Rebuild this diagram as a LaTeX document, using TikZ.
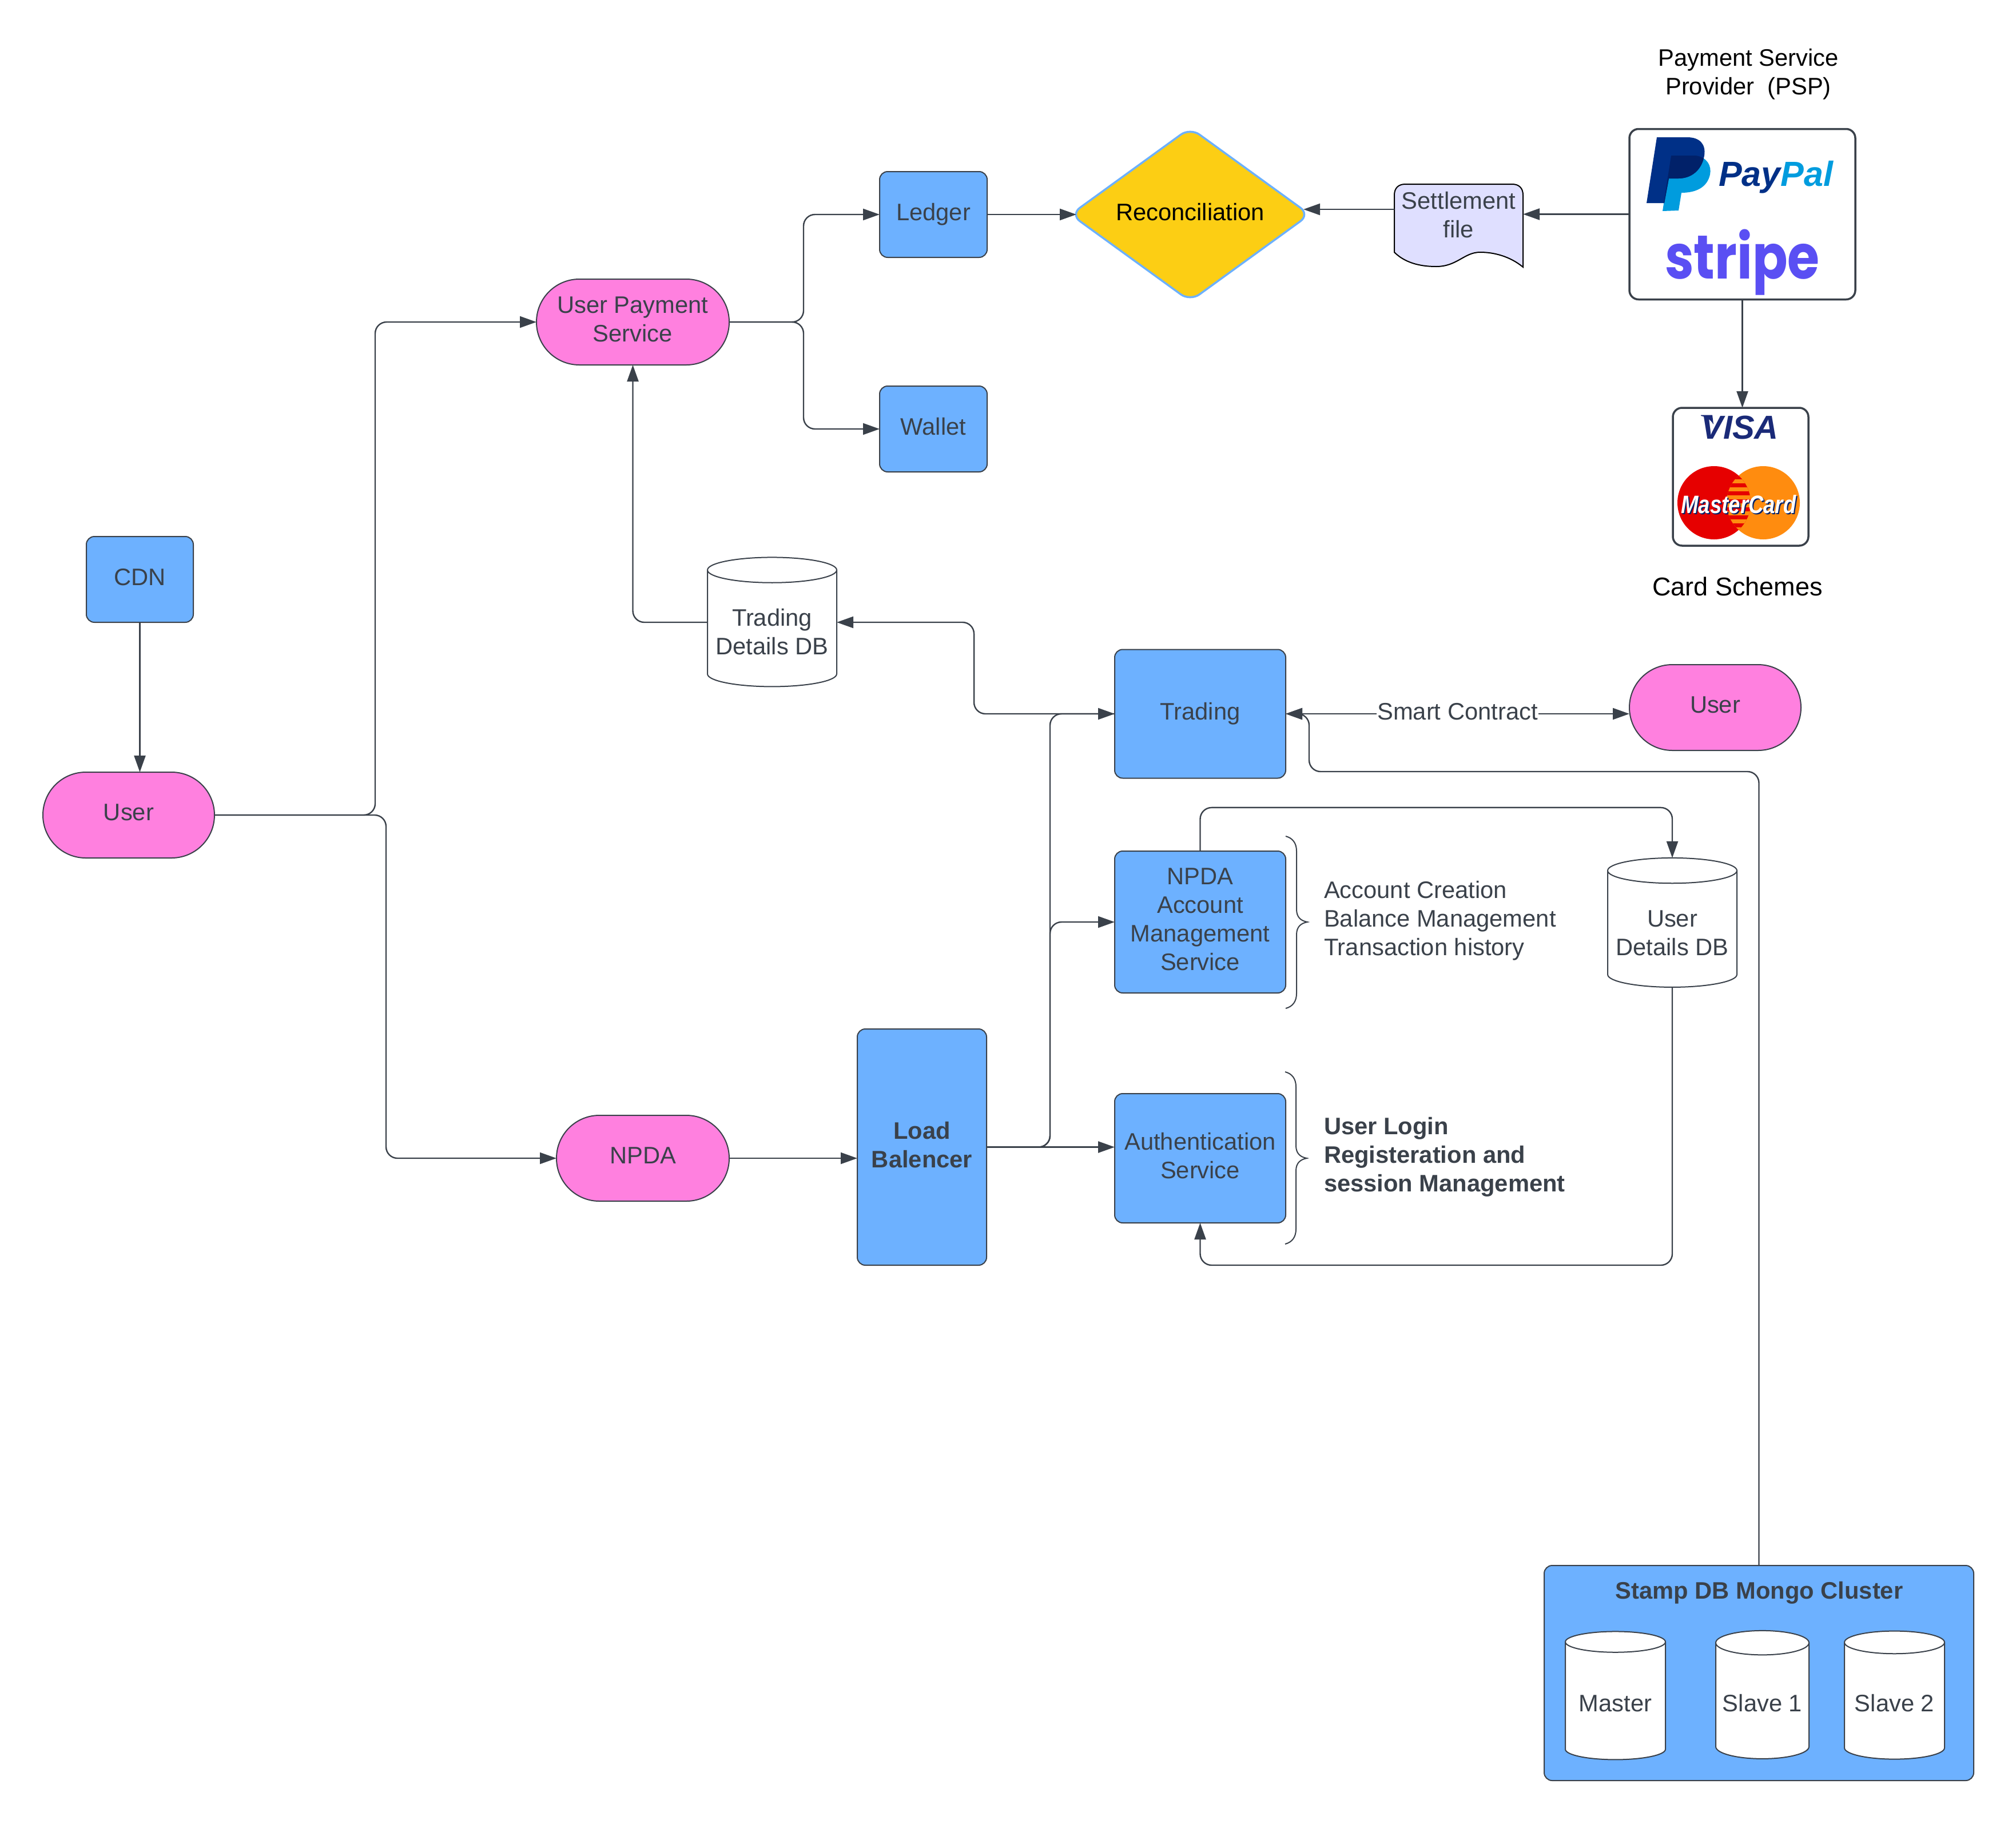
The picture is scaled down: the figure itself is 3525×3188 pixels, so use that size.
\documentclass[tikz,border=0pt]{standalone}
\usepackage{fontspec}
\usepackage{graphicx}
\setmainfont{Liberation Sans}
\newfontfamily\stripefont{Poppins}
\usetikzlibrary{arrows.meta,shapes.geometric}
\definecolor{ink}{HTML}{3A414A}
\definecolor{boxblue}{HTML}{6DB1FF}
\definecolor{pillpink}{HTML}{FF80DF}
\definecolor{gold}{HTML}{FCCE14}
\definecolor{lav}{HTML}{DFDFFF}
\definecolor{ppdark}{HTML}{003087}
\definecolor{ppmid}{HTML}{012169}
\definecolor{pplight}{HTML}{009CDE}
\definecolor{stripec}{HTML}{5A4FF3}
\definecolor{visac}{HTML}{1A2A78}
\definecolor{mcred}{HTML}{E60000}
\definecolor{mcorange}{HTML}{FF8C0F}
\newcommand{\bodyfont}{\fontsize{41.7}{50}\selectfont}
\newcommand{\myBrace}[4]{%
  \draw[ink,line width=2pt] (#1,#2) .. controls (#1+12,#2+3) and (#1+19,#2+12) .. (#1+19,#2+26)
    -- (#1+19,#3-22) .. controls (#1+19,#3-8) and (#1+27,#3-2) .. (#1+38,#3)
    .. controls (#1+27,#3+2) and (#1+19,#3+8) .. (#1+19,#3+22)
    -- (#1+19,#4-26) .. controls (#1+19,#4-12) and (#1+12,#4-3) .. (#1,#4);}
\tikzset{
  every node/.style={font=\bodyfont,text=ink,align=center,inner sep=0pt,outer sep=0pt},
  bluebox/.style={draw=ink,line width=2pt,fill=boxblue,rounded corners=14pt,text depth=9pt},
  pill/.style={draw=ink,line width=2pt,fill=pillpink,rounded corners=75pt,minimum width=300pt,minimum height=150pt,text depth=9pt},
  logobox/.style={draw=ink,line width=3.5pt,fill=white,rounded corners=16pt},
  dbcyl/.style={cylinder,shape border rotate=90,aspect=0.225,draw=ink,line width=2pt,fill=white},
  conn/.style={draw=ink,line width=2.4pt,rounded corners=20pt,-{Triangle[length=29pt,width=20pt]}},
  twoway/.style={draw=ink,line width=2.4pt,{Triangle[length=29pt,width=20pt]}-{Triangle[length=29pt,width=20pt]}},
  side/.style={anchor=west,align=left},
  capt/.style={text=black},
}
\begin{document}
\begin{tikzpicture}[x=1pt,y=-1pt]
\useasboundingbox (0,0) rectangle (3525,3188);

% pills
\node[pill] (user) at (225,1425) {User};
\node[pill] (user2) at (2999,1237) {User};
\node[pill,minimum width=302pt] (npda) at (1124,2025) {NPDA};
\node[pill,minimum width=337pt] (ups) at (1106.5,563) {User Payment\\Service};

% boxes
\node[bluebox,minimum width=187pt,minimum height=150pt] (cdn) at (244.5,1013) {CDN};
\node[bluebox,minimum width=188pt,minimum height=150pt] (ledger) at (1632,375) {Ledger};
\node[bluebox,minimum width=188pt,minimum height=150pt] (wallet) at (1632,750) {Wallet};
\node[bluebox,minimum width=226pt,minimum height=413pt] (lb) at (1612,2005.5) {\bfseries Load\\\bfseries Balencer};
\node[bluebox,minimum width=299pt,minimum height=225pt] (trading) at (2098.5,1248) {Trading};
\node[bluebox,minimum width=299pt,minimum height=248pt] (acct) at (2098.5,1612) {NPDA\\Account\\Management\\Service};
\node[bluebox,minimum width=299pt,minimum height=226pt] (auth) at (2098.5,2025) {Authentication\\Service};

% decision
\node[diamond,aspect=1.34,draw=boxblue,line width=3.5pt,fill=gold,rounded corners=20pt,
      minimum width=418pt,minimum height=303pt,text=black,text depth=9pt] (recon) at (2081,375) {Reconciliation};

% settlement file
\draw[black,line width=2pt,fill=lav] (2438,341) .. controls (2438,329) and (2445,322) .. (2457,322)
  -- (2644,322) .. controls (2656,322) and (2663,329) .. (2663,341) -- (2663,467)
  .. controls (2640,448) and (2612,441) .. (2588,441)
  .. controls (2560,441) and (2548,466) .. (2511,466)
  .. controls (2480,466) and (2455,458) .. (2438,441) -- cycle;
\node[minimum width=225pt,minimum height=108pt] (settle) at (2550.5,376) {Settlement\\file};

% payment provider
\node[logobox,minimum width=395pt,minimum height=298pt] (psp) at (3046.5,374.5) {};
\begin{scope}
\path[fill=pplight] (2922,272) -- (2965,272) .. controls (2985,275) and (2993,290) .. (2990,305)
  .. controls (2985,328) and (2965,337) .. (2940,337) -- (2935,368) -- (2907,369) -- cycle;
\path[fill=ppdark] (2897,240) -- (2950,240) .. controls (2972,240) and (2983,252) .. (2980,272)
  .. controls (2975,300) and (2955,312) .. (2935,312) -- (2918,312) -- (2910,355) -- (2879,355) -- cycle;
\begin{scope}
\clip (2922,272) -- (2965,272) .. controls (2985,275) and (2993,290) .. (2990,305)
  .. controls (2985,328) and (2965,337) .. (2940,337) -- (2935,368) -- (2907,369) -- cycle;
\path[fill=ppmid] (2897,240) -- (2950,240) .. controls (2972,240) and (2983,252) .. (2980,272)
  .. controls (2975,300) and (2955,312) .. (2935,312) -- (2918,312) -- (2910,355) -- (2879,355) -- cycle;
\end{scope}
\end{scope}
\node[anchor=base west,font=\fontsize{61}{61}\selectfont\bfseries\itshape] (paypal) at (3005,325)
  {\textcolor{ppdark}{Pay}\textcolor{pplight}{Pal}};
\node[anchor=base,font=\fontsize{108}{108}\stripefont\bfseries,text=stripec] (stripe) at (3046.5,487) {\scalebox{.84}[1]{stripe}};

% card schemes
\node[logobox,minimum width=237pt,minimum height=241pt] (card) at (3043.5,833.5) {};
\path[fill=visac] (2974,725.5) -- (2994,725.5) -- (2996,742)
  .. controls (2991,734) and (2984,729) .. (2974,727) -- cycle;
\node[anchor=base,font=\fontsize{58}{58}\selectfont\bfseries\itshape,text=visac] (visa) at (3042,767) {VISA};
\fill[mcred] (2997,879) circle (64pt);
\fill[mcorange] (3083,879) circle (64pt);
\begin{scope}
\clip (2997,879) circle (64pt);
\clip (3083,879) circle (64pt);
\fill[mcred] (3000,815) rectangle (3080,943);
\foreach \yy in {838,852,866,880,894,908,922}{
  \fill[mcorange] (3000,\yy) rectangle (3080,\yy+7);}
\end{scope}
\node[anchor=base,font=\fontsize{44}{44}\selectfont\bfseries\itshape,text=ppmid] (mcshade) at (3042,899) {\scalebox{.83}[1]{MasterCard}};
\node[anchor=base,font=\fontsize{44}{44}\selectfont\bfseries\itshape,text=white] (mc) at (3040,897) {\scalebox{.83}[1]{MasterCard}};

% captions
\node[capt] (psptitle) at (3057,129.5) {Payment Service\\Provider\ \ (PSP)};
\node[capt,font=\fontsize{45}{50}\selectfont] (cardtitle) at (3038,1025) {Card Schemes};

% databases
\node[dbcyl,minimum width=226pt,minimum height=226pt] (tdb) at (1350,1099) {\rule{0pt}{42pt}Trading\\Details DB};
\node[dbcyl,minimum width=226pt,minimum height=226pt] (udb) at (2924,1624.5) {\rule{0pt}{42pt}User\\Details DB};

% side notes
\myBrace{2248}{1462}{1612}{1763}
\myBrace{2247}{1874}{2025}{2175}
\node[side] (notes1) at (2315,1610) {Account Creation\\Balance Management\\Transaction history};
\node[side,font=\bodyfont\bfseries] (notes2) at (2315,2023) {User Login\\Registeration and\\session Management};

% cluster
\node[bluebox,minimum width=751pt,minimum height=376pt] (stamp) at (3075.5,2925) {};
\node[font=\bodyfont\bfseries] (stamptitle) at (3076,2784.5) {Stamp DB Mongo Cluster};
\node[dbcyl,aspect=0.285,minimum width=175pt,minimum height=224pt] (master) at (2824.5,2974) {\rule{0pt}{38pt}Master};
\node[dbcyl,aspect=0.305,minimum width=163pt,minimum height=224pt] (slave1) at (3081.5,2974) {\rule{0pt}{38pt}Slave 1};
\node[dbcyl,aspect=0.285,minimum width=175pt,minimum height=224pt] (slave2) at (3312.5,2974) {\rule{0pt}{38pt}Slave 2};

% connectors
\draw[conn] (cdn.south) -- (cdn.south |- user.north);
\draw[conn] (user.east) -| ([xshift=-282pt]ups.west) -- (ups.west);
\draw[conn] (user.east) -| ([xshift=-298pt]npda.west) -- (npda.west);
\draw[conn] (ups.east) -| ([xshift=-133pt]ledger.west) -- (ledger.west);
\draw[conn] (ups.east) -| ([xshift=-133pt]wallet.west) -- (wallet.west);
\draw[conn] (ledger.east) -- ([xshift=10pt]recon.west);
\draw[conn] ([yshift=10pt]settle.west) -- ([xshift=-11pt,yshift=9pt]recon.east);
\draw[conn] (psp.west) -- (psp.west -| settle.east);
\draw[conn] (psp.south) -- (psp.south |- card.north);
\draw[conn] ([yshift=11pt]tdb.west) -| (ups.south);
\draw[conn] (trading.west) -| ([xshift=240pt,yshift=11pt]tdb.east) -- ([yshift=11pt]tdb.east);
\draw[conn] (npda.east) -- (npda.east -| lb.west);
\draw[conn] (lb.east) -| ([xshift=-113pt]trading.west) -- (trading.west);
\draw[conn] (lb.east) -| ([xshift=-113pt]acct.west) -- (acct.west);
\draw[conn] (lb.east) -- (lb.east -| auth.west);
\draw[conn] (acct.north) |- ([yshift=88pt]udb.north) -- (udb.north);
\draw[conn] (udb.south) |- ([yshift=-74pt]auth.south) -- (auth.south);
\draw[conn] (stamp.north) |- ([xshift=41pt,yshift=-101pt]trading.east) |- (trading.east);
\draw[twoway] (trading.east) -- node[fill=white,inner xsep=1pt,inner ysep=3pt,text depth=9pt] (smart) {Smart Contract} (trading.east -| user2.west);
\end{tikzpicture}
\end{document}
